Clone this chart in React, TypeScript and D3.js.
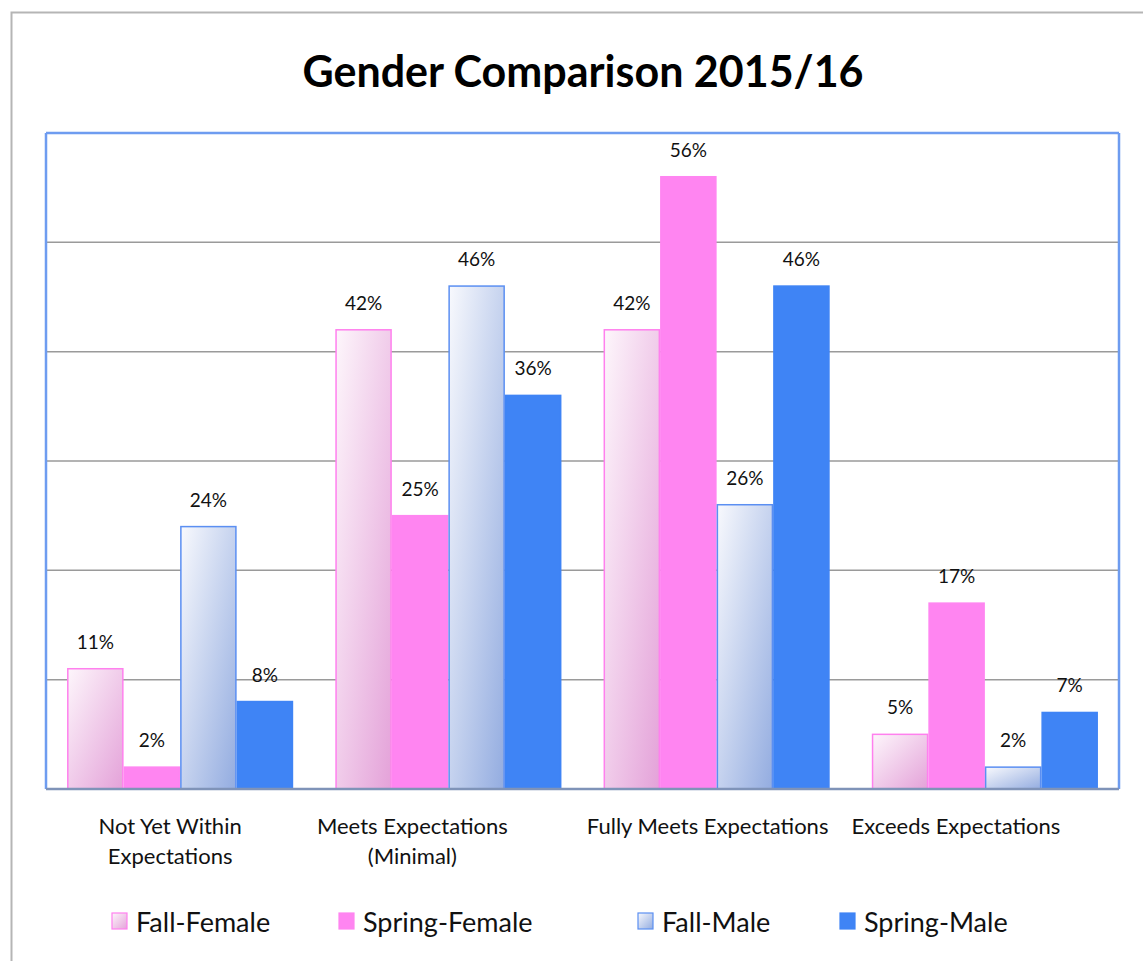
import React from "react";
import * as d3 from "d3";

const categories = [
  ["Not Yet Within", "Expectations"],
  ["Meets Expectations", "(Minimal)"],
  ["Fully Meets Expectations"],
  ["Exceeds Expectations"],
];
const seriesNames = ["Fall-Female", "Spring-Female", "Fall-Male", "Spring-Male"];
const fallFemale = [11, 42, 42, 5];
const springFemale = [2, 25, 56, 17];
const fallMale = [24, 46, 26, 2];
const springMale = [8, 36, 46, 7];
const yTicks = [0, 10, 20, 30, 40, 50, 60];

const W = 1143;
const H = 961;
const plot = { left: 46, right: 1119, top: 133, bottom: 789 };

const seriesValues = [fallFemale, springFemale, fallMale, springMale];
const fills = ["url(#gFF)", "#ff85f1", "url(#gFM)", "#3f84f5"];
const strokes = ["#ff80ee", "#ff85f1", "#5b8ff2", "#3f84f5"];
const legendFills = ["url(#gFF)", "#ff85f1", "url(#gFM)", "#3f84f5"];
const legendX = [112, 339, 638, 840];
const labelShift = [-10, -36, -9, -29];

export default function App() {
  const x0 = d3
    .scaleBand<number>()
    .domain(d3.range(categories.length))
    .range([plot.left, plot.right])
    .paddingInner(0.157)
    .paddingOuter(0.0785);
  const x1 = d3
    .scaleBand<number>()
    .domain(d3.range(seriesNames.length))
    .range([0, x0.bandwidth()]);
  const y = d3.scaleLinear().domain([0, 60]).range([plot.bottom, plot.top]);
  const font = "Lato, 'Open Sans', sans-serif";

  return (
    <svg
      width={W}
      height={H}
      style={{ position: "absolute", left: 0, top: 0, background: "#fff" }}
    >
      <defs>
        <linearGradient id="gFF" x1="0" y1="0" x2="1" y2="1">
          <stop offset="0" stopColor="#fdf6fb" />
          <stop offset="1" stopColor="#e4a2d9" />
        </linearGradient>
        <linearGradient id="gFM" x1="0" y1="0" x2="1" y2="1">
          <stop offset="0" stopColor="#f8f9fd" />
          <stop offset="1" stopColor="#93ace0" />
        </linearGradient>
      </defs>
      <rect x={11.5} y={12.5} width={1200} height={1000} fill="#fff" stroke="#b5b5b5" strokeWidth={2} />
      <text
        x={583}
        y={87}
        textAnchor="middle"
        fontFamily={font}
        fontWeight={700}
        fontSize={43}
        fill="#000"
      >
        Gender Comparison 2015/16
      </text>
      {yTicks.slice(1, -1).map((t) => (
        <line
          key={t}
          x1={plot.left}
          x2={plot.right}
          y1={y(t)}
          y2={y(t)}
          stroke="#9a9a9a"
          strokeWidth={1.5}
        />
      ))}
      {seriesValues.map((vals, s) =>
        vals.map((v, i) => {
          const bx = (x0(i) as number) + (x1(s) as number);
          const bw = x1.bandwidth();
          return (
            <g key={`${s}-${i}`}>
              <rect
                x={bx + 0.75}
                y={y(v)}
                width={bw - 1.5}
                height={plot.bottom - y(v)}
                fill={fills[s]}
                stroke={strokes[s]}
                strokeWidth={1.5}
              />
              <text
                x={bx + bw / 2}
                y={y(v) - 20}
                textAnchor="middle"
                fontFamily={font}
                fontSize={19}
                fill="#111"
              >
                {v}%
              </text>
            </g>
          );
        })
      )}
      <line x1={plot.left} x2={plot.right} y1={plot.top} y2={plot.top} stroke="#6e9cf0" strokeWidth={2.5} />
      <line x1={plot.left} x2={plot.left} y1={plot.top} y2={plot.bottom} stroke="#6e9cf0" strokeWidth={2.5} />
      <line x1={plot.right} x2={plot.right} y1={plot.top} y2={plot.bottom} stroke="#6e9cf0" strokeWidth={2.5} />
      <line x1={plot.left} x2={plot.right} y1={plot.bottom} y2={plot.bottom} stroke="#7f93b8" strokeWidth={2.5} />
      {categories.map((lines, i) => {
        const cx = (x0(i) as number) + x0.bandwidth() / 2 + labelShift[i];
        return (
          <text
            key={i}
            x={cx}
            y={834}
            textAnchor="middle"
            fontFamily={font}
            fontSize={22}
            fill="#111"
          >
            {lines.map((l, k) => (
              <tspan key={k} x={cx} dy={k === 0 ? 0 : 30}>
                {l}
              </tspan>
            ))}
          </text>
        );
      })}
      {seriesNames.map((n, s) => (
        <g key={n}>
          <rect
            x={legendX[s]}
            y={913}
            width={15}
            height={16}
            fill={legendFills[s]}
            stroke={strokes[s]}
            strokeWidth={1.2}
          />
          <text x={legendX[s] + 24} y={932} fontFamily={font} fontSize={27} fill="#111">
            {n}
          </text>
        </g>
      ))}
    </svg>
  );
}
